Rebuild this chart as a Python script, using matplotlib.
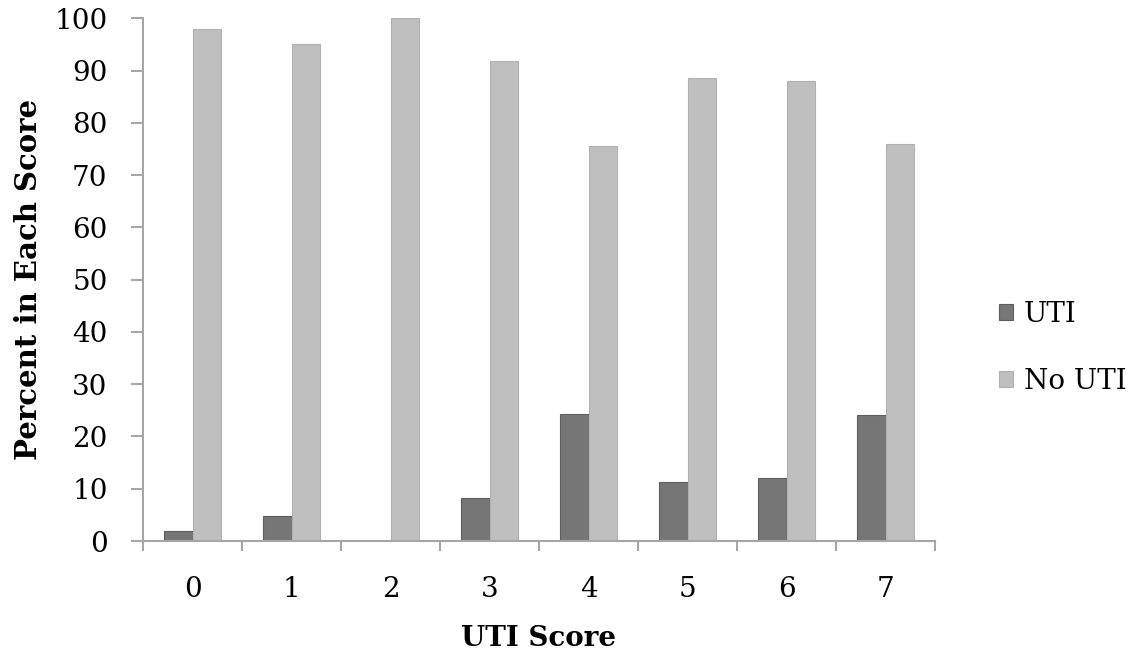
import numpy as np
import matplotlib.pyplot as plt
from matplotlib.ticker import FixedLocator, NullFormatter

# Percent of patients in each UTI score group
scores = ["0", "1", "2", "3", "4", "5", "6", "7"]
uti = [2.0, 4.8, 0.0, 8.2, 24.4, 11.3, 12.0, 24.1]
no_uti = [98.0, 95.2, 100.0, 91.8, 75.6, 88.7, 88.0, 75.9]

plt.rcParams['font.family'] = ['DejaVu Serif']

fig = plt.figure(figsize=(11.37, 6.6), dpi=100)
ax = fig.add_axes([0.1258, 0.1803, 0.6966, 0.7917])

x = np.arange(len(scores))
w = 1 / 3.5  # excel-style gap width of 150%

ax.bar(x - w / 2, uti, w, color="#767676", edgecolor="#5e5e5e", linewidth=0.8, label="UTI")
ax.bar(x + w / 2, no_uti, w, color="#bfbfbf", edgecolor="#b0b0b0", linewidth=0.8, label="No UTI")

ax.set_xlim(-0.5, len(scores) - 0.5)
ax.set_ylim(0, 100)
ax.set_yticks(np.arange(0, 101, 10))

# category labels in the middle, tick marks between categories
ax.set_xticks(x)
ax.set_xticklabels(scores)
ax.xaxis.set_minor_locator(FixedLocator(np.arange(-0.5, len(scores), 1)))
ax.xaxis.set_minor_formatter(NullFormatter())
ax.tick_params(axis="x", which="major", length=0, pad=25, labelsize=20)
ax.tick_params(axis="x", which="minor", length=7.5, width=1.5, color="#a6a6a6")
ax.tick_params(axis="y", length=8.5, width=1.5, color="#a6a6a6", pad=17, labelsize=20)

for side in ["top", "right"]:
    ax.spines[side].set_visible(False)
for side in ["left", "bottom"]:
    ax.spines[side].set_color("#a6a6a6")
    ax.spines[side].set_linewidth(1.5)

ax.set_ylabel("Percent in Each Score", fontsize=21, fontweight="bold", labelpad=8)
ax.set_xlabel("UTI Score", fontsize=20, fontweight="bold", labelpad=16)

ax.legend(loc="center left", bbox_to_anchor=(1.049, 0.37), frameon=False,
          fontsize=20, handlelength=0.5, handleheight=0.5, handletextpad=0.4,
          labelspacing=1.45)

fig.savefig("out.png", dpi=100)
